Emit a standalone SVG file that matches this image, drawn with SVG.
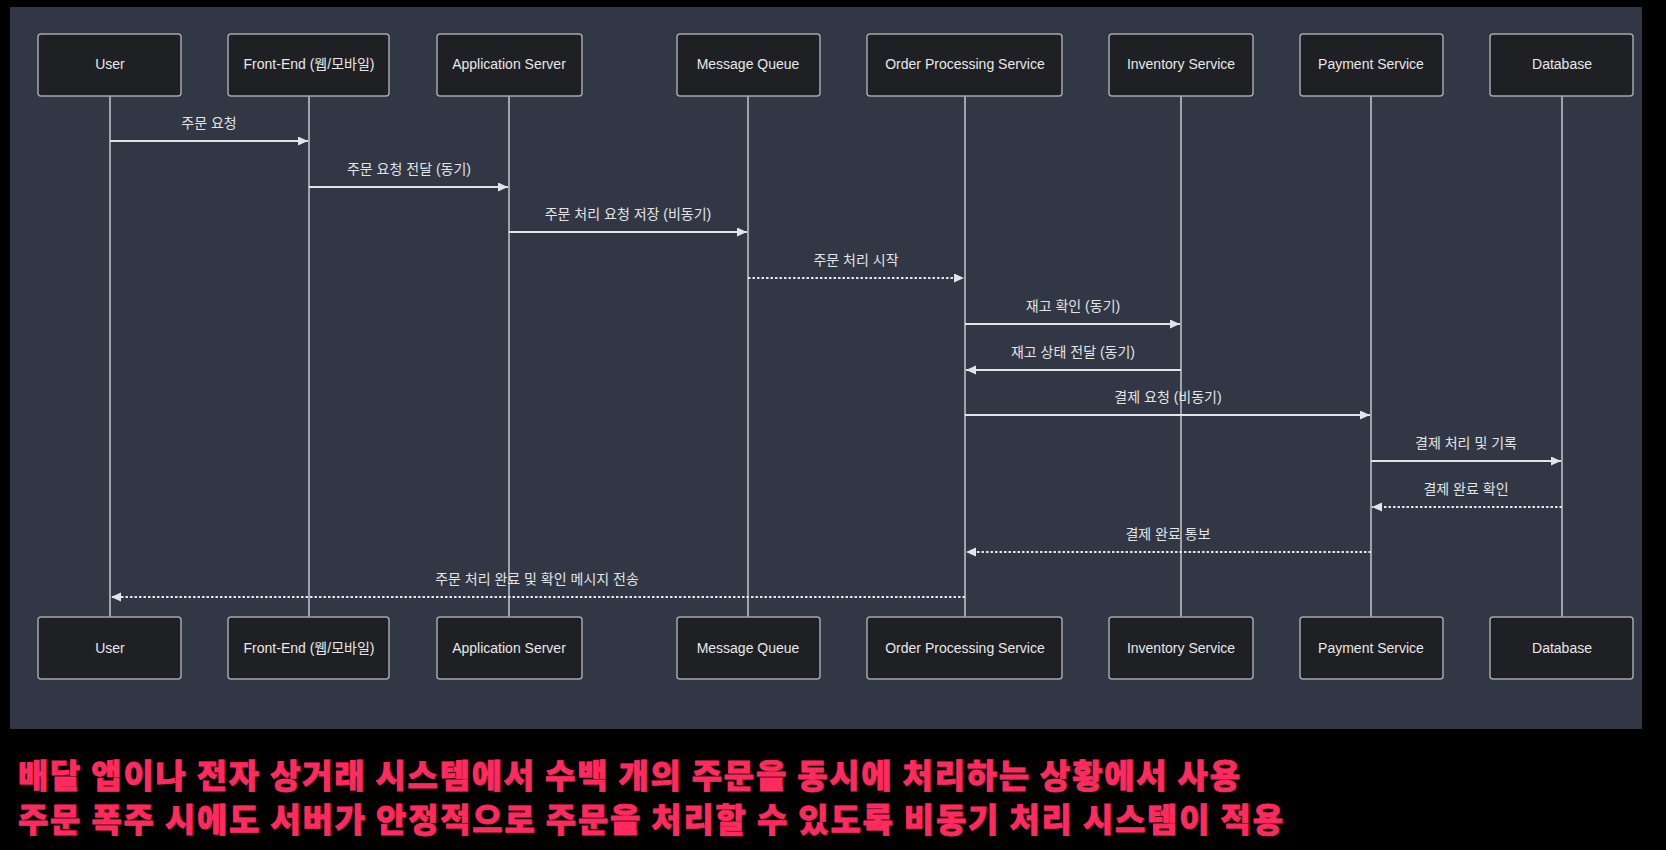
<svg xmlns="http://www.w3.org/2000/svg" width="1666" height="850" viewBox="0 0 1666 850">
  <style>
    .actor rect { fill: #1f2023; stroke: #a3a6ab; stroke-width: 1.5; }
    .actor text { fill: #e8e8e8; font-family: "Liberation Sans", "Noto Sans CJK KR", sans-serif; font-size: 14px; text-anchor: middle; }
    .life { stroke: #c4c7cc; stroke-width: 1.5; fill: none; }
    .msg { stroke: #e2e4e8; stroke-width: 2; fill: none; }
    .dot { stroke-dasharray: 2.5 2; }
    .lbl { fill: #e4e4e4; font-family: "Liberation Sans", "Noto Sans CJK KR", sans-serif; font-size: 14px; text-anchor: middle; }
    .cap { fill: #ff2b5e; stroke: #ff2b5e; stroke-width: 0.8; font-family: "Noto Sans CJK KR", "Liberation Sans", sans-serif; font-size: 33px; font-weight: 900; }
  </style>
  <defs>
    <marker id="ah" markerUnits="userSpaceOnUse" markerWidth="11" markerHeight="10" refX="10" refY="4.5" orient="auto">
      <path d="M0,0 L10,4.5 L0,9 z" fill="#e2e4e8"/>
    </marker>
  </defs>
  <rect x="0" y="0" width="1666" height="850" fill="#000000"/>
  <rect x="10" y="7" width="1632" height="722" fill="#313745"/>

  <g id="lifelines">
    <line class="life" x1="110" y1="96" x2="110" y2="617"/>
    <line class="life" x1="309" y1="96" x2="309" y2="617"/>
    <line class="life" x1="509" y1="96" x2="509" y2="617"/>
    <line class="life" x1="748" y1="96" x2="748" y2="617"/>
    <line class="life" x1="965" y1="96" x2="965" y2="617"/>
    <line class="life" x1="1181" y1="96" x2="1181" y2="617"/>
    <line class="life" x1="1371" y1="96" x2="1371" y2="617"/>
    <line class="life" x1="1562" y1="96" x2="1562" y2="617"/>
  </g>

  <g id="user" class="actor">
    <rect x="38" y="34" width="143" height="62" rx="3"/><text x="110" y="69">User</text>
    <rect x="38" y="617" width="143" height="62" rx="3"/><text x="110" y="653">User</text>
  </g>
  <g id="frontend" class="actor">
    <rect x="228" y="34" width="161" height="62" rx="3"/><text x="309" y="69">Front-End (웹/모바일)</text>
    <rect x="228" y="617" width="161" height="62" rx="3"/><text x="309" y="653">Front-End (웹/모바일)</text>
  </g>
  <g id="appserver" class="actor">
    <rect x="437" y="34" width="145" height="62" rx="3"/><text x="509" y="69">Application Server</text>
    <rect x="437" y="617" width="145" height="62" rx="3"/><text x="509" y="653">Application Server</text>
  </g>
  <g id="mq" class="actor">
    <rect x="677" y="34" width="143" height="62" rx="3"/><text x="748" y="69">Message Queue</text>
    <rect x="677" y="617" width="143" height="62" rx="3"/><text x="748" y="653">Message Queue</text>
  </g>
  <g id="ops" class="actor">
    <rect x="867" y="34" width="195" height="62" rx="3"/><text x="965" y="69">Order Processing Service</text>
    <rect x="867" y="617" width="195" height="62" rx="3"/><text x="965" y="653">Order Processing Service</text>
  </g>
  <g id="inventory" class="actor">
    <rect x="1109" y="34" width="144" height="62" rx="3"/><text x="1181" y="69">Inventory Service</text>
    <rect x="1109" y="617" width="144" height="62" rx="3"/><text x="1181" y="653">Inventory Service</text>
  </g>
  <g id="payment" class="actor">
    <rect x="1300" y="34" width="143" height="62" rx="3"/><text x="1371" y="69">Payment Service</text>
    <rect x="1300" y="617" width="143" height="62" rx="3"/><text x="1371" y="653">Payment Service</text>
  </g>
  <g id="database" class="actor">
    <rect x="1490" y="34" width="143" height="62" rx="3"/><text x="1562" y="69">Database</text>
    <rect x="1490" y="617" width="143" height="62" rx="3"/><text x="1562" y="653">Database</text>
  </g>

  <g id="connectors">
    <line class="msg" x1="110" y1="141" x2="308" y2="141" marker-end="url(#ah)"/>
    <text class="lbl" x="209" y="128">주문 요청</text>
    <line class="msg" x1="309" y1="187" x2="508" y2="187" marker-end="url(#ah)"/>
    <text class="lbl" x="409" y="174">주문 요청 전달 (동기)</text>
    <line class="msg" x1="509" y1="232" x2="747" y2="232" marker-end="url(#ah)"/>
    <text class="lbl" x="628" y="219">주문 처리 요청 저장 (비동기)</text>
    <line class="msg dot" x1="748" y1="278" x2="964" y2="278" marker-end="url(#ah)"/>
    <text class="lbl" x="856" y="265">주문 처리 시작</text>
    <line class="msg" x1="965" y1="324" x2="1180" y2="324" marker-end="url(#ah)"/>
    <text class="lbl" x="1073" y="311">재고 확인 (동기)</text>
    <line class="msg" x1="1181" y1="370" x2="966" y2="370" marker-end="url(#ah)"/>
    <text class="lbl" x="1073" y="357">재고 상태 전달 (동기)</text>
    <line class="msg" x1="965" y1="415" x2="1370" y2="415" marker-end="url(#ah)"/>
    <text class="lbl" x="1168" y="402">결제 요청 (비동기)</text>
    <line class="msg" x1="1371" y1="461" x2="1561" y2="461" marker-end="url(#ah)"/>
    <text class="lbl" x="1466" y="448">결제 처리 및 기록</text>
    <line class="msg dot" x1="1562" y1="507" x2="1372" y2="507" marker-end="url(#ah)"/>
    <text class="lbl" x="1466" y="494">결제 완료 확인</text>
    <line class="msg dot" x1="1371" y1="552" x2="966" y2="552" marker-end="url(#ah)"/>
    <text class="lbl" x="1168" y="539">결제 완료 통보</text>
    <line class="msg dot" x1="965" y1="597" x2="111" y2="597" marker-end="url(#ah)"/>
    <text class="lbl" x="537" y="584">주문 처리 완료 및 확인 메시지 전송</text>
  </g>

  <g id="caption">
    <text class="cap" x="18" y="788" textLength="1222" lengthAdjust="spacing">배달 앱이나 전자 상거래 시스템에서 수백 개의 주문을 동시에 처리하는 상황에서 사용</text>
    <text class="cap" x="18" y="832" textLength="1265" lengthAdjust="spacing">주문 폭주 시에도 서버가 안정적으로 주문을 처리할 수 있도록 비동기 처리 시스템이 적용</text>
  </g>
</svg>
